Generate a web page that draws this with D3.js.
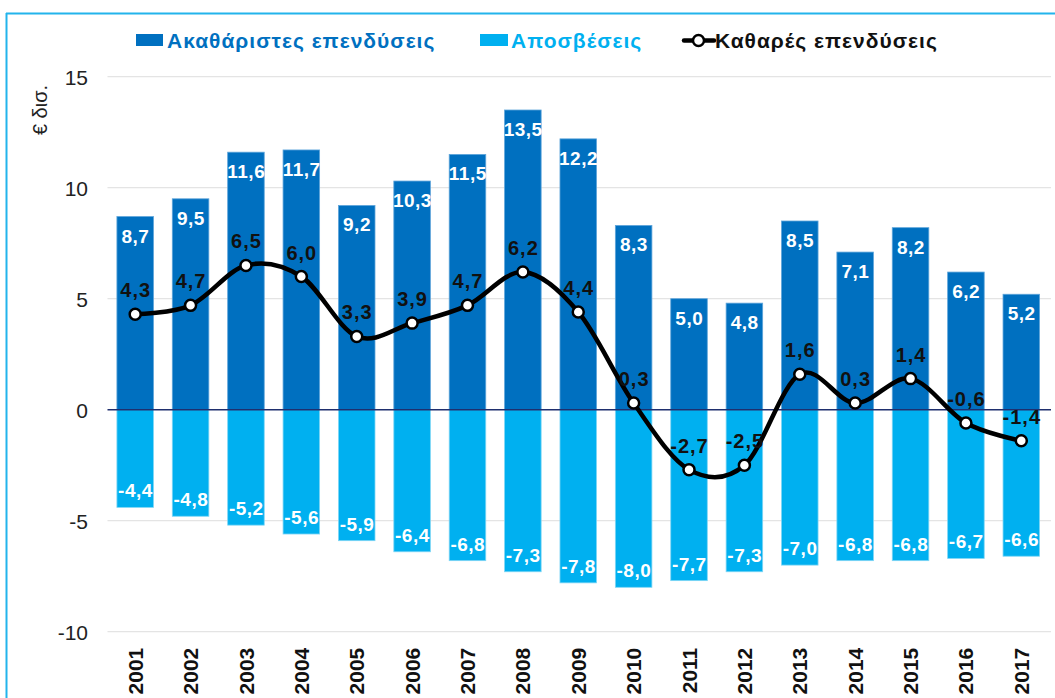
<!DOCTYPE html>
<html>
<head>
<meta charset="utf-8">
<script src="https://cdn.jsdelivr.net/npm/d3@7"></script>
<style>
  html, body { margin: 0; padding: 0; background: #fff; }
  svg { display: block; font-family: "Liberation Sans", Arial, sans-serif; }
</style>
</head>
<body>
<svg id="chart" width="1055" height="698"></svg>
<script>
const years = ["2001","2002","2003","2004","2005","2006","2007","2008","2009","2010","2011","2012","2013","2014","2015","2016","2017"];
const gross = [8.7, 9.5, 11.6, 11.7, 9.2, 10.3, 11.5, 13.5, 12.2, 8.3, 5.0, 4.8, 8.5, 7.1, 8.2, 6.2, 5.2];
const depreciation = [-4.4, -4.8, -5.2, -5.6, -5.9, -6.4, -6.8, -7.3, -7.8, -8.0, -7.7, -7.3, -7.0, -6.8, -6.8, -6.7, -6.6];
const net = [4.3, 4.7, 6.5, 6.0, 3.3, 3.9, 4.7, 6.2, 4.4, 0.3, -2.7, -2.5, 1.6, 0.3, 1.4, -0.6, -1.4];
const yTicks = [-10, -5, 0, 5, 10, 15];
const seriesNames = ["Ακαθάριστες επενδύσεις", "Αποσβέσεις", "Καθαρές επενδύσεις"];
const yTitle = "€ δισ.";

(function () {
const C_GROSS = "#0070C0", C_DEP = "#00B0F0", C_NET = "#000000";
const fmt = v => v.toFixed(1).replace(".", ",");

const svg = d3.select("#chart");
const pLeft = 107.5, pRight = 1049, pTop = 76.7, pBottom = 631.7;

const x = d3.scaleBand().domain(years).range([pLeft, pRight]).paddingInner(0.34).paddingOuter(0.17);
const y = d3.scaleLinear().domain([-10, 15]).range([pBottom, pTop]);

// frame
svg.append("line").attr("x1", 6).attr("x2", 1055).attr("y1", 13.5).attr("y2", 13.5)
  .attr("stroke", "#22B4EC").attr("stroke-width", 2);
svg.append("line").attr("x1", 6.5).attr("x2", 6.5).attr("y1", 13).attr("y2", 698)
  .attr("stroke", "#22B4EC").attr("stroke-width", 2);

// gridlines
svg.append("g").selectAll("line").data(yTicks.filter(t => t !== 0)).join("line")
  .attr("x1", pLeft).attr("x2", pRight + 2)
  .attr("y1", d => y(d)).attr("y2", d => y(d))
  .attr("stroke", "#E4E4E4").attr("stroke-width", 1.2);

// y axis labels
const yAxis = d3.axisLeft(y).tickValues(yTicks).tickSize(0).tickPadding(0).tickFormat(d => d);
const yg = svg.append("g").attr("transform", `translate(${88},0)`).call(yAxis);
yg.select(".domain").remove();
yg.selectAll("text").attr("font-size", 21).attr("fill", "#222").attr("font-family", "Liberation Sans, Arial, sans-serif").attr("dy", "0.35em");

// y title
svg.append("text").attr("transform", `translate(47,110) rotate(-90)`)
  .attr("text-anchor", "middle").attr("font-size", 20).attr("fill", "#222").text(yTitle);

// x axis labels
const xAxis = d3.axisBottom(x).tickSize(0).tickPadding(0);
const xg = svg.append("g").attr("transform", `translate(0,${pBottom})`).call(xAxis);
xg.select(".domain").remove();
xg.selectAll("text")
  .attr("transform", "rotate(-90)")
  .attr("text-anchor", "end")
  .attr("x", -16).attr("y", 0).attr("dy", "0.36em")
  .attr("font-size", 21).attr("font-weight", "bold").attr("fill", "#111")
  .attr("font-family", "Liberation Sans, Arial, sans-serif");

// bars
const bw = x.bandwidth();
svg.append("g").selectAll("rect").data(years).join("rect")
  .attr("x", d => x(d)).attr("width", bw)
  .attr("y", (d, i) => y(gross[i])).attr("height", (d, i) => y(0) - y(gross[i]))
  .attr("fill", C_GROSS).attr("stroke", "#5FA5DA").attr("stroke-width", 0.8);
svg.append("g").selectAll("rect").data(years).join("rect")
  .attr("x", d => x(d)).attr("width", bw)
  .attr("y", y(0)).attr("height", (d, i) => y(depreciation[i]) - y(0))
  .attr("fill", C_DEP).attr("stroke", "#7FD6F5").attr("stroke-width", 0.8);

// zero line
svg.append("line").attr("x1", pLeft).attr("x2", pRight + 2).attr("y1", y(0)).attr("y2", y(0))
  .attr("stroke", "#1F2F6E").attr("stroke-width", 1.5);

// bar labels
svg.append("g").selectAll("text").data(years).join("text")
  .attr("x", d => x(d) + bw / 2 + 0.3).attr("y", (d, i) => y(gross[i]) + 26)
  .attr("text-anchor", "middle").attr("font-size", 19).attr("font-weight", "bold").attr("fill", "#fff")
  .attr("letter-spacing", 0.5)
  .text((d, i) => fmt(gross[i]));
svg.append("g").selectAll("text").data(years).join("text")
  .attr("x", d => x(d) + bw / 2 + 0.3).attr("y", (d, i) => y(depreciation[i]) - 10)
  .attr("text-anchor", "middle").attr("font-size", 19).attr("font-weight", "bold").attr("fill", "#fff")
  .attr("letter-spacing", 0.5)
  .text((d, i) => fmt(depreciation[i]));

// net line
const cx = d => x(d) + bw / 2;
const line = d3.line().x((d, i) => cx(years[i])).y(d => y(d)).curve(d3.curveCatmullRom.alpha(0));
svg.append("path").datum(net).attr("d", line)
  .attr("fill", "none").attr("stroke", C_NET).attr("stroke-width", 4.5).attr("stroke-linejoin", "round");
svg.append("g").selectAll("circle").data(net).join("circle")
  .attr("cx", (d, i) => cx(years[i])).attr("cy", d => y(d)).attr("r", 5.5)
  .attr("fill", "#fff").attr("stroke", C_NET).attr("stroke-width", 2.5);
svg.append("g").selectAll("text").data(net).join("text")
  .attr("x", (d, i) => cx(years[i]) + 0.5).attr("y", d => y(d) - 17)
  .attr("text-anchor", "middle").attr("font-size", 20).attr("font-weight", "bold").attr("fill", "#111")
  .attr("letter-spacing", 1)
  .text(d => fmt(d));

// legend
const lg = svg.append("g").attr("font-size", 21).attr("font-weight", "bold").attr("letter-spacing", 1);
lg.append("rect").attr("x", 136).attr("y", 34).attr("width", 27).attr("height", 12).attr("fill", C_GROSS);
lg.append("text").attr("x", 167).attr("y", 47.5).attr("fill", C_GROSS).text(seriesNames[0]);
lg.append("rect").attr("x", 480).attr("y", 34).attr("width", 28).attr("height", 12).attr("fill", C_DEP);
lg.append("text").attr("x", 511).attr("y", 47.5).attr("fill", C_DEP).text(seriesNames[1]);
lg.append("line").attr("x1", 684).attr("x2", 714).attr("y1", 40.5).attr("y2", 40.5).attr("stroke", C_NET).attr("stroke-width", 4.5).attr("stroke-linecap", "round");
lg.append("circle").attr("cx", 698.5).attr("cy", 40.5).attr("r", 5.5).attr("fill", "#fff").attr("stroke", C_NET).attr("stroke-width", 2.5);
lg.append("text").attr("x", 715).attr("y", 47.5).attr("fill", "#111").text(seriesNames[2]);
})();
</script>
</body>
</html>
